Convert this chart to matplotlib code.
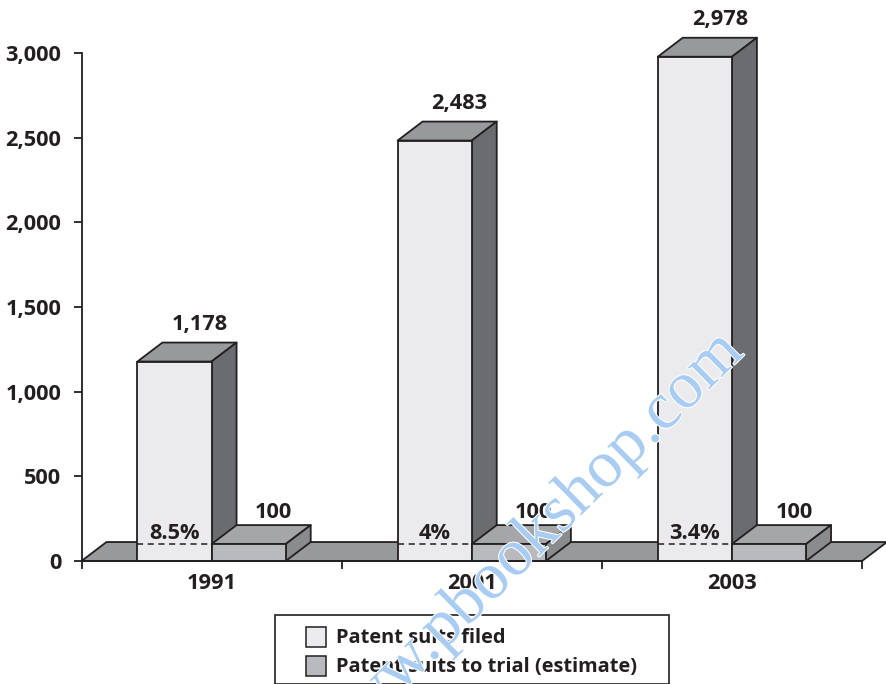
import matplotlib
matplotlib.use("Agg")
import matplotlib.pyplot as plt
import matplotlib.patheffects as pe
from matplotlib.patches import Polygon, Rectangle

years = ["1991", "2001", "2003"]
suits_filed = [1178, 2483, 2978]
suits_trial = [100, 100, 100]
filed_labels = ["1,178", "2,483", "2,978"]
trial_labels = ["100", "100", "100"]
percent_labels = ["8.5%", "4%", "3.4%"]
y_ticks = [0, 500, 1000, 1500, 2000, 2500, 3000]
y_tick_labels = ["0", "500", "1,000", "1,500", "2,000", "2,500", "3,000"]

plt.rcParams['font.family'] = ['Open Sans', 'DejaVu Sans']
plt.rcParams['font.weight'] = 'bold'

W, H = 886, 684
fig = plt.figure(figsize=(W / 100, H / 100), dpi=100)
ax = fig.add_axes([81.5 / W, 1 - 561 / H, (862 - 81.5) / W, (561 - 53) / H])
ax.set_xlim(-0.5, 2.5)
ax.set_ylim(0, 3000)

bar_w = 0.285
dx = 0.096   # depth of the 3d look
dy = 112
edge = "#231f20"
lw = 1.3
fs = 15.7


def box(x0, x1, h, front, top, side, z):
    ax.add_patch(Polygon([(x0, h), (x0 + dx, h + dy), (x1 + dx, h + dy), (x1, h)],
                         fc=top, ec=edge, lw=lw, zorder=z, clip_on=False, joinstyle="round"))
    ax.add_patch(Polygon([(x1, 0), (x1 + dx, dy), (x1 + dx, h + dy), (x1, h)],
                         fc=side, ec=edge, lw=lw, zorder=z, clip_on=False, joinstyle="round"))
    ax.add_patch(Rectangle((x0, 0), x1 - x0, h, fc=front, ec=edge, lw=lw, zorder=z, clip_on=False))


# floor
ax.add_patch(Polygon([(-0.5, 0), (-0.5 + dx, dy), (2.5 + dx, dy), (2.5, 0)],
                     fc="#98999b", ec=edge, lw=lw, zorder=1, clip_on=False))

for i in range(len(years)):
    box(i - bar_w, i, suits_filed[i], "#ebebed", "#98999b", "#6b6c6f", 3)
    box(i, i + bar_w, suits_trial[i], "#b9babd", "#a5a6a8", "#8a8b8d", 4)
    ax.plot([i - bar_w, i], [suits_trial[i], suits_trial[i]], color=edge, lw=1.1,
            dashes=(4, 3), zorder=5)
    ax.text(i - bar_w / 2 + dx, suits_filed[i] + dy + 44, filed_labels[i], ha="center", va="bottom",
            fontsize=fs, color=edge, zorder=6)
    ax.text(i + bar_w / 2 + dx, suits_trial[i] + dy + 14, trial_labels[i], ha="center", va="bottom",
            fontsize=fs, color=edge, zorder=6)
    ax.text(i - bar_w / 2, suits_trial[i] + 2, percent_labels[i], ha="center", va="bottom",
            fontsize=fs, color=edge, zorder=6)

for s in ["top", "right"]:
    ax.spines[s].set_visible(False)
for s in ["left", "bottom"]:
    ax.spines[s].set_linewidth(1.3)
    ax.spines[s].set_color(edge)
    ax.spines[s].set_zorder(7)

ax.set_yticks(y_ticks)
ax.set_yticklabels(y_tick_labels, fontsize=fs, color=edge)
ax.set_xticks([-0.5, 0.5, 1.5, 2.5])
ax.set_xticklabels([])
ax.tick_params(axis="both", length=6, width=1.3, color=edge)
ax.tick_params(axis="y", pad=8.5)
for i, y in enumerate(years):
    ax.text(i, -130, y, ha="center", va="center", fontsize=fs, color=edge)

# legend box
fig.add_artist(Rectangle((274.5 / W, 1 - 683.5 / H), (669 - 274.5) / W, (683.5 - 615) / H,
                         transform=fig.transFigure, fc="white", ec=edge, lw=1.2))
legend_names = ["Patent suits filed", "Patent suits to trial (estimate)"]
legend_colors = ["#ebebed", "#b9babd"]
legend_y = [637, 666]
for name, col, ly in zip(legend_names, legend_colors, legend_y):
    fig.add_artist(Rectangle((306 / W, 1 - (ly + 10) / H), 20 / W, 20 / H,
                             transform=fig.transFigure, fc=col, ec=edge, lw=1.1))
    fig.text(336 / W, 1 - (ly + 1) / H, name, ha="left", va="center", fontsize=14.4, color=edge)

# watermark
fig.text(526 / W, 1 - 546 / H, "www.pbookshop.com", ha="center", va="center", rotation=44.5,
         rotation_mode="anchor", fontsize=48, family="Liberation Serif", weight="normal",
         color="#a9ccf2", zorder=10,
         path_effects=[pe.withStroke(linewidth=1.5, foreground="white")])

fig.savefig("out.png", dpi=100)
